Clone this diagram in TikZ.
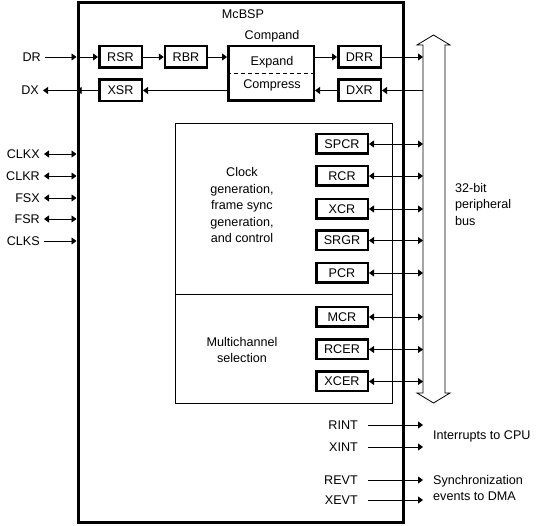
\documentclass[tikz,border=0pt]{standalone}
\usepackage{fontspec}
\setmainfont{Liberation Sans}
\usetikzlibrary{arrows.meta}
\begin{document}
\begin{tikzpicture}[x=1pt,y=-1pt,
  every node/.style={font=\fontsize{12.6}{16.5}\selectfont},
  reg/.style={draw, line width=2.5pt, inner sep=0pt, minimum height=20pt},
  plain/.style={inner sep=0pt, align=center},
  lbl/.style={anchor=east, inner xsep=4pt, inner ysep=0pt},
  conn/.style={line width=0.8pt, -{Triangle[length=5pt,width=7pt]}},
  bconn/.style={line width=0.8pt, {Triangle[length=5pt,width=7pt]}-{Triangle[length=5pt,width=7pt]}},
  area/.style={draw, line width=0.8pt, inner sep=0pt}]
\useasboundingbox (0,0) rectangle (541,526);

% main McBSP box
\node[draw, line width=3pt, inner sep=0pt, minimum width=325pt, minimum height=519pt] (main) at (240.5,262.5) {};
\node[plain] (title) at (243,14) {McBSP};

% inner areas
\node[area, minimum width=217pt, minimum height=171pt] (clk) at (283.5,208.5) {};
\node[area, minimum width=217pt, minimum height=109pt] (mc) at (283.5,348.5) {};
\node[plain] (clktext) at (242,205) {Clock\\generation,\\frame sync\\generation,\\and control};
\node[plain] (mctext) at (242,350) {Multichannel\\selection};

% data path registers
\node[reg, minimum width=42.5pt, minimum height=21.5pt] (rsr) at (120.5,57) {RSR};
\node[reg, minimum width=42pt, minimum height=21.5pt] (rbr) at (186,57) {RBR};
\node[reg, minimum width=42.5pt, minimum height=21.5pt] (xsr) at (120.5,90.5) {XSR};
\node[reg, minimum width=42.5pt, minimum height=21.5pt] (drr) at (359.5,57) {DRR};
\node[reg, minimum width=42.5pt, minimum height=21.5pt] (dxr) at (359.5,90.5) {DXR};
\node[reg, minimum width=85.5pt, minimum height=54.5pt] (compand) at (271,73.5) {};
\draw[line width=0.8pt, dash pattern=on 4pt off 3pt] (compand.west) -- (compand.east);
\node[plain] (comptitle) at (272,36) {Compand};
\node[plain] (expand) at (272,62) {Expand};
\node[plain] (compress) at (272,85) {Compress};

% control registers
\foreach \n/\t/\yy in {spcr/SPCR/144, rcr/RCR/176, xcr/XCR/209, srgr/SRGR/240.5, pcr/PCR/273, mcr/MCR/317, rcer/RCER/349.5, xcer/XCER/381.5}
  \node[reg, minimum width=51.5pt, minimum height=19.5pt] (\n) at (342,\yy) {\t};

% peripheral bus
\node[inner sep=0pt, outer sep=0pt, minimum width=22pt, minimum height=348pt] (bus) at (434,219) {};
\draw[line width=0.8pt, fill=white, line join=miter]
  (bus.south west) -- (bus.north west) -- ++(-6,0) -- (433.5,35) -- (450,45) -- (bus.north east)
  -- (bus.south east) -- ++(5,0) -- (433.5,403) -- (417,393) -- cycle;
\node[anchor=west, inner sep=0pt, align=left] (bustext) at (455,204) {32-bit\\peripheral\\bus};

% left signals
\node[lbl] (dr) at (45,57) {DR};
\node[lbl] (dx) at (43,90.5) {DX};
\node[lbl] (clkx) at (44,154) {CLKX};
\node[lbl] (clkr) at (44,176) {CLKR};
\node[lbl] (fsx) at (44,198) {FSX};
\node[lbl] (fsr) at (44,219) {FSR};
\node[lbl] (clks) at (44,241) {CLKS};

\draw[conn] (dr.east) -- (dr.east -| main.west);
\draw[conn] (main.west |- rsr) -- (rsr.west);
\draw[conn] (rsr.east) -- (rbr.west);
\draw[conn] (rbr.east) -- (rbr.east -| compand.west);
\draw[conn] (compand.east |- drr) -- (drr.west);
\draw[conn] (drr.east) -- (drr.east -| bus.west);
\draw[conn] (bus.west |- dxr) -- (dxr.east);
\draw[conn] (dxr.west) -- (dxr.west -| compand.east);
\draw[conn] (compand.west |- xsr) -- (xsr.east);
\draw[conn] (xsr.west) -- (xsr.west -| main.west);
\draw[conn] (main.west |- dx) -- (dx.east);

\foreach \n in {clkx, clkr, fsx, fsr}
  \draw[bconn] (\n.east) -- (\n.east -| main.west);
\draw[conn] (clks.east) -- (clks.east -| main.west);

\foreach \n in {spcr, rcr, xcr, srgr, pcr, mcr, rcer, xcer}
  \draw[bconn] (\n.east) -- (\n.east -| bus.west);

% interrupt / event outputs
\node[lbl, inner xsep=10pt] (rint) at (368,425) {RINT};
\node[lbl, inner xsep=10pt] (xint) at (368,447) {XINT};
\node[lbl, inner xsep=10pt] (revt) at (368,480) {REVT};
\node[lbl, inner xsep=10pt] (xevt) at (368,500) {XEVT};
\foreach \n in {rint, xint, revt, xevt}
  \draw[conn] (\n.east) -- (\n.east -| bus.west);
\node[anchor=west, inner sep=0pt] (cpu) at (433,436) {Interrupts to CPU};
\node[anchor=west, inner sep=0pt, align=left] (dma) at (433,488) {Synchronization\\events to DMA};
\end{tikzpicture}
\end{document}
